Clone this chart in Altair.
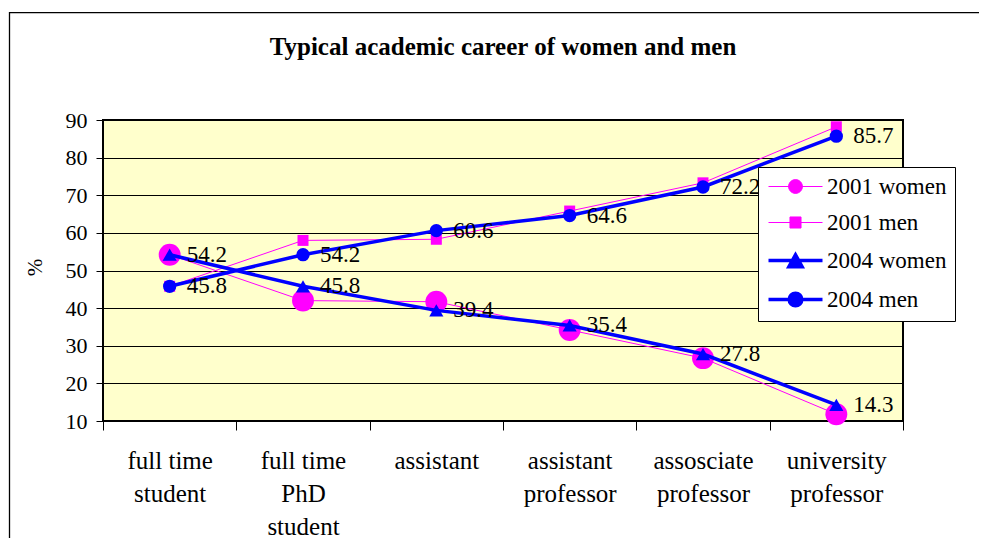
import altair as alt
import pandas as pd

# ---- data ----
categories = ["full time|student", "full time|PhD|student", "assistant",
              "assistant|professor", "assosciate|professor", "university|professor"]
series_names = ["2001 women", "2001 men", "2004 women", "2004 men"]
women_2001 = [54.2, 42.0, 41.7, 34.2, 26.7, 11.8]
men_2001 = [45.8, 58.0, 58.3, 65.8, 73.3, 88.2]
women_2004 = [54.2, 45.8, 39.4, 35.4, 27.8, 14.3]
men_2004 = [45.8, 54.2, 60.6, 64.6, 72.2, 85.7]
y_ticks = [10, 20, 30, 40, 50, 60, 70, 80, 90]
labelled_series = ["2004 women", "2004 men"]

values = {"2001 women": women_2001, "2001 men": men_2001,
          "2004 women": women_2004, "2004 men": men_2004}
rows = []
for s in series_names:
    for i, (c, v) in enumerate(zip(categories, values[s])):
        rows.append({"category": c, "idx": i, "series": s, "value": v})
df = pd.DataFrame(rows)

FONT = "Liberation Serif, Times New Roman, Times, serif"
MAGENTA = "#FF00FF"
BLUE = "#0000FF"
colors = [MAGENTA, MAGENTA, BLUE, BLUE]
widths = [1, 1, 3.5, 3.5]
point_style = {
    "2001 women": dict(shape="circle", size=480),
    "2001 men": dict(shape="square", size=121),
    "2004 women": dict(shape="triangle-up", size=200),
    "2004 men": dict(shape="circle", size=177),
}
legend_paths = [
    "M-4.5,0H4.5M1.15,0A1.15,1.15,0,1,1,-1.15,0A1.15,1.15,0,1,1,1.15,0Z",
    "M-4.5,0H4.5M-0.92,-0.92H0.92V0.92H-0.92Z",
    "M-4.5,0H4.5M0,-0.95L1.1,1.05H-1.1Z",
    "M-4.5,0H4.5M1.05,0A1.05,1.05,0,1,1,-1.05,0A1.05,1.05,0,1,1,1.05,0Z",
]

stroke_scale = alt.Scale(domain=series_names, range=colors)
sw_scale = alt.Scale(type="ordinal", domain=series_names, range=widths)
shape_scale = alt.Scale(domain=series_names, range=legend_paths)

leg = alt.Legend(orient="none", legendX=655, legendY=47, title=None,
                 labelFont=FONT, labelFontSize=23, labelColor="black",
                 fillColor="white", strokeColor="black", padding=8,
                 symbolSize=144, symbolOffset=18, labelOffset=20, rowPadding=12)

X = alt.X("category:N", sort=categories,
          scale=alt.Scale(type="band", domain=categories, paddingInner=0, paddingOuter=0),
          bandPosition=0.5,
          axis=alt.Axis(title=None, labelExpr="split(datum.label, '|')",
                        labelFont=FONT, labelFontSize=25, labelColor="black",
                        labelLineHeight=33, labelAngle=0, labelPadding=18,
                        labelBaseline="top", tickBand="extent", tickSize=9,
                        tickColor="black", tickWidth=1, domain=False, grid=False))
Y = alt.Y("value:Q", scale=alt.Scale(domain=[10, 90], nice=False, zero=False),
          axis=alt.Axis(title="%", values=y_ticks, labelFont=FONT, labelFontSize=22,
                        labelColor="black", labelPadding=9, tickSize=7, tickColor="black",
                        tickWidth=1, grid=True, gridColor="black", gridWidth=1,
                        gridOpacity=1, domain=False, titleFont=FONT, titleFontSize=21,
                        titleFontWeight="normal", titleColor="black", titleX=-68,
                        titleY=147, titleAngle=270, titleAlign="center",
                        titleBaseline="middle"))

frame = alt.Chart(pd.DataFrame({"k": [0]})).mark_rect(
    filled=False, stroke="black", strokeWidth=1.3, clip=False
).encode(x=alt.value(-93.5), x2=alt.value(1000), y=alt.value(-107.3), y2=alt.value(600))

layers = [frame]
for s in series_names:
    line = alt.Chart(df).transform_filter(alt.datum.series == s).mark_line().encode(
        x=X, y=Y,
        stroke=alt.Stroke("series:N", scale=stroke_scale, legend=leg),
        strokeWidth=alt.StrokeWidth("series:N", scale=sw_scale, legend=leg),
        order=alt.Order("idx:Q"),
    )
    pts = alt.Chart(df).transform_filter(alt.datum.series == s).mark_point(
        filled=True, opacity=1, **point_style[s]
    ).encode(
        x=X, y=Y,
        fill=alt.Fill("series:N", scale=stroke_scale, legend=leg),
    )
    layers += [line, pts]

labels = alt.Chart(df).transform_filter(
    alt.FieldOneOfPredicate(field="series", oneOf=labelled_series)
).mark_text(align="left", baseline="middle", dx=17, font=FONT, fontSize=23,
            color="black").encode(x=X, y=Y, text=alt.Text("value:Q", format=".1f"))
layers.append(labels)

legend_layer = alt.Chart(df).transform_filter("false").mark_point(filled=True, opacity=1).encode(
    x=X, y=Y,
    fill=alt.Fill("series:N", scale=stroke_scale, legend=leg),
    stroke=alt.Stroke("series:N", scale=stroke_scale, legend=leg),
    shape=alt.Shape("series:N", scale=shape_scale, legend=leg),
    strokeWidth=alt.StrokeWidth("series:N", scale=sw_scale, legend=leg),
)
layers.append(legend_layer)

chart = alt.layer(*layers).properties(
    width=800, height=301,
    title=alt.TitleParams(text="Typical academic career of women and men", font=FONT,
                          fontSize=25, fontWeight="bold", color="black",
                          anchor="middle", frame="group", baseline="middle",
                          offset=0, dy=60),
    autosize=alt.AutoSizeParams(type="none"),
    padding={"left": 95, "top": 112, "right": 76, "bottom": 117},
    background="white",
).configure_view(fill="#FFFFCC", stroke="black", strokeWidth=2)

chart.save("out.html", embed_options={"renderer": "svg", "actions": False})
